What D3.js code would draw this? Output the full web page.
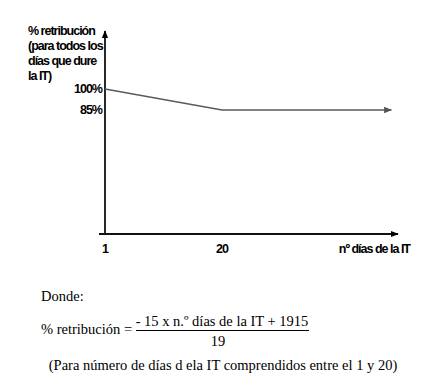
<!DOCTYPE html>
<html><head><meta charset="utf-8">
<script src="https://cdn.jsdelivr.net/npm/d3@7"></script>
<style>
body{margin:0;background:#fff;}
svg{display:block;}
.lab{font-family:"Liberation Sans",Arial,sans-serif;font-weight:bold;font-size:12.5px;letter-spacing:-1px;fill:#000;}
.ser{font-family:"Liberation Serif","Times New Roman",serif;font-size:14.5px;fill:#000;}
</style></head>
<body>
<script>
const days = [1, 20, 47.5];
const pct = [100, 85, 85];
const yTicks = [100, 85];
const yTickLabels = ["100%", "85%"];
const xTicks = [1, 20];
const xTickLabels = ["1", "20"];
const yTitle = ["% retribución", "(para todos los", "días que dure", "la IT)"];
const xTitle = "nº días de la IT";

const W = 436, H = 378;
const svg = d3.select("body").append("svg").attr("width", W).attr("height", H);
const defs = svg.append("defs");
function marker(id, color, size) {
  defs.append("marker").attr("id", id).attr("viewBox", "0 0 10 10")
    .attr("refX", 9).attr("refY", 5).attr("markerWidth", size).attr("markerHeight", size)
    .attr("markerUnits", "userSpaceOnUse").attr("orient", "auto")
    .append("path").attr("d", "M0,1 L10,5 L0,9 Z").attr("fill", color);
}
marker("ax", "#000", 8);
marker("ln", "#555", 8);

const x = d3.scaleLinear().domain([1, 20]).range([105, 222]);
const y = d3.scaleLinear().domain([85, 100]).range([110, 89]);
const x0 = 105, yBase = 234;

// axes
svg.append("line").attr("x1", x0).attr("y1", yBase).attr("x2", x0).attr("y2", 31)
  .attr("stroke", "#111").attr("stroke-width", 1.8).attr("marker-end", "url(#ax)");
svg.append("line").attr("x1", 99).attr("y1", yBase).attr("x2", 398).attr("y2", yBase)
  .attr("stroke", "#111").attr("stroke-width", 2).attr("marker-end", "url(#ax)");

// data line
const line = d3.line().x((d, i) => x(days[i])).y(d => y(d));
svg.append("path").datum(pct).attr("d", line).attr("fill", "none")
  .attr("stroke", "#5a5a5a").attr("stroke-width", 1.6).attr("marker-end", "url(#ln)");

// y tick labels
svg.selectAll(".yt").data(yTicks).enter().append("text").attr("class", "lab")
  .attr("x", 102).attr("y", d => y(d) + 4).attr("text-anchor", "end")
  .text((d, i) => yTickLabels[i]);
// x tick labels
svg.selectAll(".xt").data(xTicks).enter().append("text").attr("class", "lab")
  .attr("x", d => x(d)).attr("y", 253).attr("text-anchor", "middle")
  .text((d, i) => xTickLabels[i]);
svg.append("text").attr("class", "lab").attr("x", 410).attr("y", 253)
  .attr("text-anchor", "end").text(xTitle);
// y title
svg.selectAll(".ytl").data(yTitle).enter().append("text").attr("class", "lab")
  .attr("x", 28).attr("y", (d, i) => 35 + i * 15).text(d => d);

// formula text
svg.append("text").attr("class", "ser").attr("x", 41).attr("y", 301).text("Donde:");
svg.append("text").attr("class", "ser").attr("x", 41).attr("y", 334).text("% retribución =");
svg.append("text").attr("class", "ser").attr("x", 222).attr("y", 326).attr("text-anchor", "middle")
  .text("- 15 x n.º días de la IT + 1915");
svg.append("line").attr("x1", 136).attr("x2", 309).attr("y1", 330.5).attr("y2", 330.5)
  .attr("stroke", "#000").attr("stroke-width", 1);
svg.append("text").attr("class", "ser").attr("x", 218).attr("y", 346).attr("text-anchor", "middle").text("19");
svg.append("text").attr("class", "ser").attr("x", 223).attr("y", 370).attr("text-anchor", "middle")
  .text("(Para número de días d ela IT comprendidos entre el 1 y 20)");
</script>
</body></html>
